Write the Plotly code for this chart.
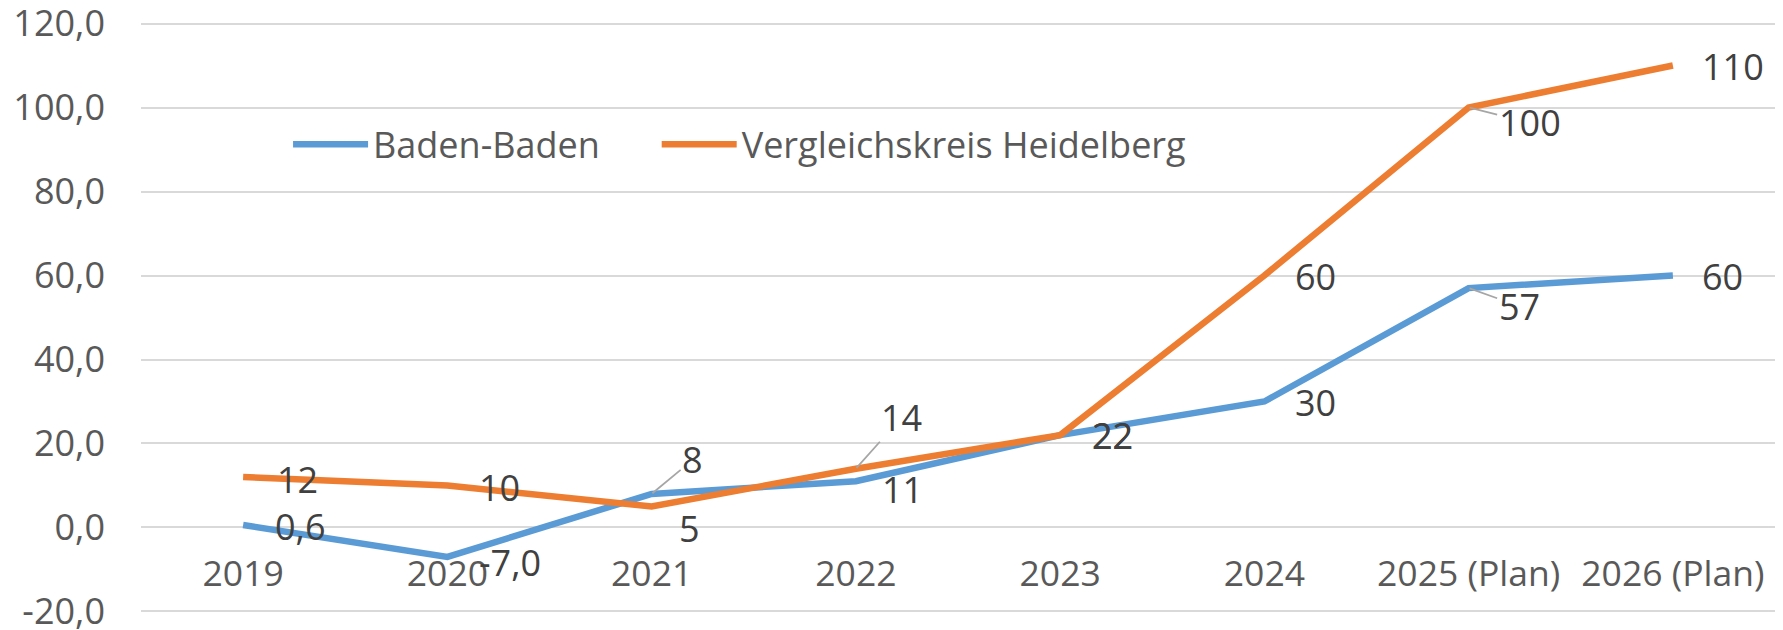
import plotly.graph_objects as go

categories = ["2019", "2020", "2021", "2022", "2023", "2024", "2025 (Plan)", "2026 (Plan)"]
baden = [0.6, -7.0, 8, 11, 22, 30, 57, 60]
baden_labels = ["0,6", "-7,0", "8", "11", "22", "30", "57", "60"]
heidelberg = [12, 10, 5, 14, 22, 60, 100, 110]
heidelberg_labels = ["12", "10", "5", "14", "22", "60", "100", "110"]
ytick_vals = [-20, 0, 20, 40, 60, 80, 100, 120]
ytick_text = ["-20,0", "0,0", "20,0", "40,0", "60,0", "80,0", "100,0", "120,0"]

# label placement (px): plain labels -> (left-edge offset, centre offset down);
# leader labels -> (centre offset right, centre offset down)
baden_off = [(30, 2, False), (30, 6, False), (41, -34, True), (24, 8.5, False),
             (30, 0.5, False), (28.5, 0.7, False), (50.5, 18, True), (27.5, 0.6, False)]
heid_off = [(31.5, 2, False), (30, 2, False), (25, 22, False), (46, -51.6, True),
            (30, 0.5, False), (28.5, 0.6, False), (61, 15, True), (27.5, 0.6, False)]

BLUE = "#5B9BD5"
ORANGE = "#ED7D31"
FONT = "Open Sans"
LABEL_FONT = dict(family=FONT, size=36, color="#404040")

fig = go.Figure()
fig.add_trace(go.Scatter(x=categories, y=baden, mode="lines", name="Baden-Baden",
                         line=dict(color=BLUE, width=6.5), legend="legend"))
fig.add_trace(go.Scatter(x=categories, y=heidelberg, mode="lines", name="Vergleichskreis Heidelberg",
                         line=dict(color=ORANGE, width=6.5), legend="legend2"))

annotations = []
for vals, labels, offs in [(heidelberg, heidelberg_labels, heid_off), (baden, baden_labels, baden_off)]:
    for i, (v, t, (dx, dy, lead)) in enumerate(zip(vals, labels, offs)):
        if lead:
            annotations.append(dict(x=i, y=v, xref="x", yref="y", text=t, showarrow=True,
                                    arrowhead=0, arrowwidth=1.8, arrowcolor="#A6A6A6",
                                    ax=dx, ay=dy, standoff=1, font=LABEL_FONT))
        else:
            annotations.append(dict(x=i, y=v, xref="x", yref="y", text=t, showarrow=False,
                                    xanchor="left", xshift=dx, yshift=-dy, font=LABEL_FONT))

legend_style = dict(orientation="h", xanchor="left", yanchor="middle", itemwidth=75,
                    font=dict(family=FONT, size=36, color="#595959"),
                    bgcolor="rgba(0,0,0,0)")

fig.update_layout(
    width=1775, height=622,
    margin=dict(l=133, r=8, t=13, b=16),
    paper_bgcolor="white", plot_bgcolor="white",
    font=dict(family=FONT, size=36, color="#595959"),
    showlegend=True,
    legend=dict(x=0.09, y=0.792, **legend_style),
    legend2=dict(x=0.3156, y=0.792, **legend_style),
    annotations=annotations,
)
fig.update_xaxes(type="category", range=[-0.5, 7.5], automargin=False,
                 anchor="free", position=0.108,
                 showgrid=False, showline=False, zeroline=False,
                 ticks="", ticklabelstandoff=0,
                 tickfont=dict(family=FONT, size=35.5, color="#595959"))
fig.update_yaxes(range=[-20.6, 120.6], tickvals=ytick_vals, ticktext=ytick_text, automargin=False,
                 showgrid=True, gridcolor="#D9D9D9", gridwidth=1.8, zeroline=False,
                 showline=False, ticks="", ticklabelstandoff=35, ticklabeloverflow="allow",
                 tickfont=dict(family=FONT, size=36, color="#595959"))

fig.write_html("out.html")
